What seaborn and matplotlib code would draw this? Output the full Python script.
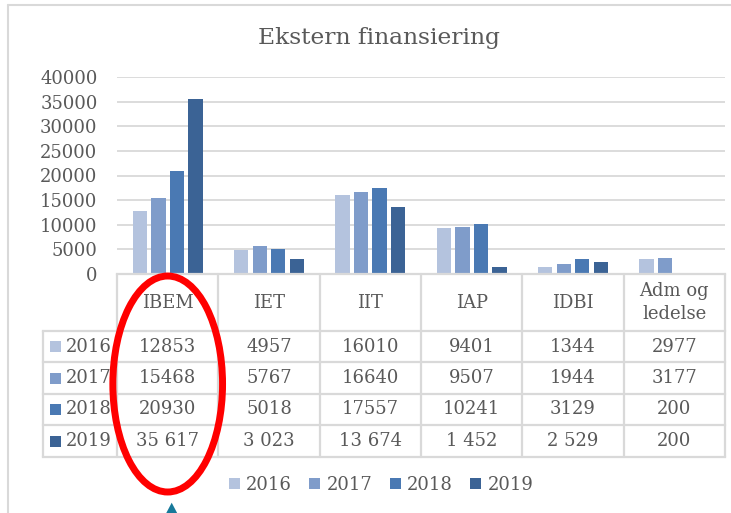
import matplotlib
matplotlib.use("Agg")
import matplotlib.pyplot as plt
import matplotlib.transforms as mtransforms
from matplotlib.patches import Ellipse, Polygon, Rectangle
import seaborn as sns
import pandas as pd

# ---- data ----
departments = ["IBEM", "IET", "IIT", "IAP", "IDBI", "Adm og\nledelse"]
years = ["2016", "2017", "2018", "2019"]
v2016 = [12853, 4957, 16010, 9401, 1344, 2977]
v2017 = [15468, 5767, 16640, 9507, 1944, 3177]
v2018 = [20930, 5018, 17557, 10241, 3129, 200]
v2019 = [35617, 3023, 13674, 1452, 2529, 200]
space_sep_years = ["2019"]
yticks = [0, 5000, 10000, 15000, 20000, 25000, 30000, 35000, 40000]
title = "Ekstern finansiering"
colors = ["#b4c3de", "#7f9cca", "#4a79b3", "#3b6395"]

series = {"2016": v2016, "2017": v2017, "2018": v2018, "2019": v2019}
rows = []
for y in years:
    for d, v in zip(departments, series[y]):
        rows.append({"Avdeling": d, "År": y, "Verdi": v})
df = pd.DataFrame(rows)

sns.set_style("white")
plt.rcParams["font.family"] = ["DejaVu Serif"]
TXT = "#595959"
GRID = "#d9d9d9"
FS = 13

W, H = 731, 513
fig = plt.figure(figsize=(W / 100, H / 100), dpi=100)

def fx(x):
    return x / W

def fy(y):
    return 1 - y / H

ax = fig.add_axes([fx(117), fy(274), fx(725) - fx(117), fy(77) - fy(274)])
sns.barplot(data=df, x="Avdeling", y="Verdi", hue="År", order=departments,
            hue_order=years, palette=colors, width=0.735, gap=0.23,
            saturation=1, edgecolor="none", linewidth=0, ax=ax, legend=True,
            zorder=2)
handles, labels = ax.get_legend_handles_labels()
ax.get_legend().remove()

ax.set_xlim(-0.5, len(departments) - 0.5)
ax.set_ylim(0, 40000)
ax.set_yticks(yticks)
ax.set_yticklabels([str(t) for t in yticks], fontsize=FS, color=TXT)
ax.tick_params(axis="y", length=0, pad=14)
ax.tick_params(axis="x", length=0, labelbottom=False)
ax.set_xlabel("")
ax.set_ylabel("")
ax.yaxis.grid(True, color=GRID, linewidth=1.3, zorder=0)
ax.set_axisbelow(True)
for s in ax.spines.values():
    s.set_visible(False)

# ---- data table ----
tr = mtransforms.blended_transform_factory(ax.transData, fig.transFigure)
n = len(departments)
left_lab = -0.5 - 74 / (608 / n)
right = n - 0.5
row_lines = [331, 362, 394, 425, 457]
lw_t = 1.6
ax.plot([-0.5, right], [fy(274), fy(274)], transform=tr, color=GRID, lw=lw_t,
        clip_on=False, zorder=5, solid_capstyle="projecting")
for yl in row_lines:
    ax.plot([left_lab, right], [fy(yl), fy(yl)], transform=tr, color=GRID,
            lw=lw_t, clip_on=False, zorder=5, solid_capstyle="projecting")
for i in range(n + 1):
    ax.plot([i - 0.5, i - 0.5], [fy(274), fy(457)], transform=tr, color=GRID,
            lw=lw_t, clip_on=False, zorder=5)
ax.plot([left_lab, left_lab], [fy(331), fy(457)], transform=tr, color=GRID,
        lw=lw_t, clip_on=False, zorder=5)

for i, d in enumerate(departments):
    ax.text(i, fy(302.5), d, transform=tr, ha="center", va="center",
            fontsize=FS, color=TXT, linespacing=1.35)

row_centers = [(row_lines[k] + row_lines[k + 1]) / 2 for k in range(4)]
for k, y in enumerate(years):
    yc = fy(row_centers[k])
    for i, v in enumerate(series[y]):
        s = f"{v:,}".replace(",", " ") if y in space_sep_years else str(v)
        ax.text(i, yc, s, transform=tr, ha="center", va="center",
                fontsize=FS, color=TXT)
    fig.patches.append(Rectangle((fx(50), fy(row_centers[k] + 5.5)), fx(11),
                                 11 / H, transform=fig.transFigure,
                                 facecolor=colors[k], edgecolor="none"))
    fig.text(fx(66), yc, y, ha="left", va="center", fontsize=FS, color=TXT)

# legend
fig.legend(handles, labels, loc="center", bbox_to_anchor=(fx(381), fy(485)),
           ncol=4, frameon=False, fontsize=FS, labelcolor=TXT,
           handlelength=0.62, handleheight=0.62, handletextpad=0.35,
           columnspacing=0.95, borderpad=0)

# title
fig.text(fx(379), fy(44.3), title, ha="center", va="baseline", fontsize=16.8,
         color=TXT)

# chart frame
fig.lines.append(plt.Line2D([fx(8), 1.0], [fy(4.5), fy(4.5)],
                            transform=fig.transFigure, color=GRID, lw=1.5))
fig.lines.append(plt.Line2D([fx(8), fx(8)], [fy(4.5), 0],
                            transform=fig.transFigure, color=GRID, lw=1.5))

# red ellipse annotation
fig.patches.append(Ellipse((fx(167.7), fy(384)), fx(109.7), 216 / H,
                           transform=fig.transFigure, facecolor="none",
                           edgecolor="#ff0000", lw=5, zorder=10))
# teal arrow head
fig.patches.append(Polygon([(fx(171.7), fy(502.7)), (fx(166), fy(513.5)),
                            (fx(177.4), fy(513.5))], closed=True,
                           transform=fig.transFigure, facecolor="#17799a",
                           edgecolor="none", zorder=10))

fig.savefig("out.png", dpi=100)
